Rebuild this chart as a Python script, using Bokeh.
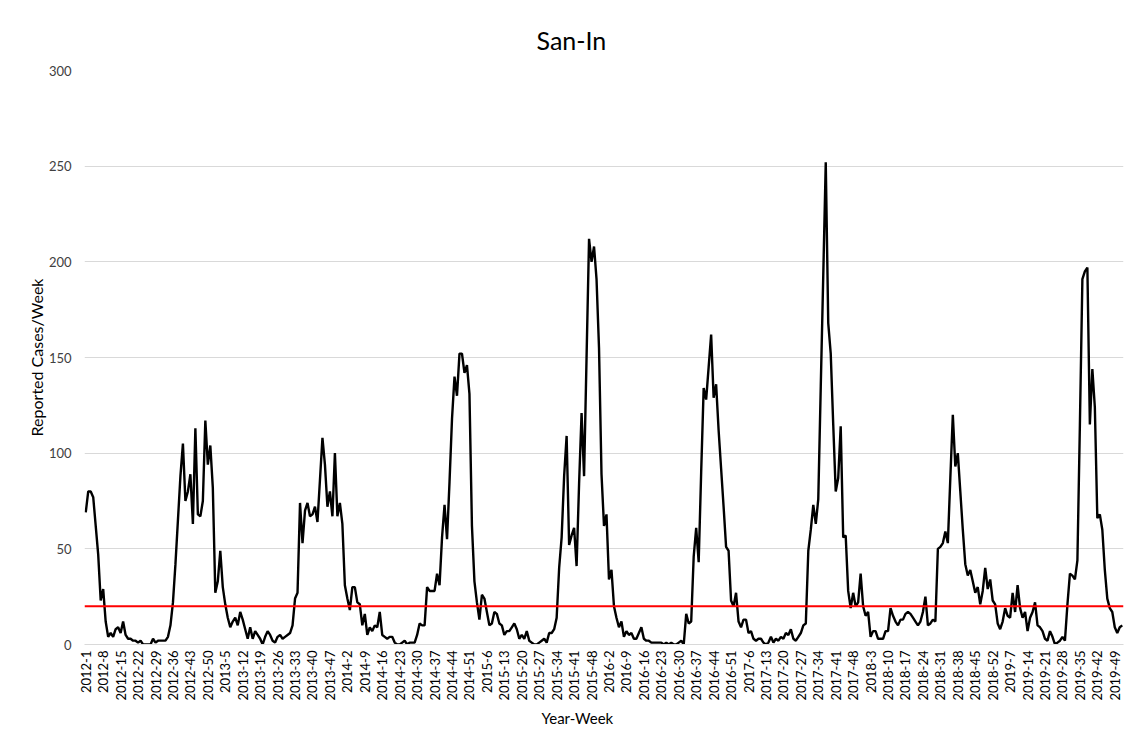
import math
from bokeh.plotting import figure
from bokeh.models import Range1d, FixedTicker, Span, ColumnDataSource, Title
from bokeh.embed import file_html
from bokeh.resources import INLINE

# ---- data ----
years = [2012, 2013, 2014, 2015, 2016, 2017, 2018, 2019]
weeks_in_year = [52, 52, 52, 53, 52, 52, 52, 52]

cases_2012 = [69, 80, 80, 77, 62, 47, 23, 29, 12, 4,
              6, 4, 8, 9, 6, 12, 5, 3, 3, 2,
              2, 1, 2, 0, 0, 0, 0, 3, 1, 2,
              2, 2, 2, 4, 10, 22, 42, 65, 88, 105,
              75, 80, 89, 63, 113, 68, 67, 75, 117, 94,
              104, 82]
cases_2013 = [27, 33, 49, 30, 21, 14, 9, 12, 14, 10,
              17, 13, 8, 3, 9, 3, 7, 5, 3, 0,
              4, 7, 5, 2, 1, 4, 5, 3, 4, 5,
              6, 10, 24, 27, 74, 53, 70, 74, 67, 68,
              72, 64, 86, 108, 94, 72, 80, 67, 100, 67,
              74, 63]
cases_2014 = [31, 24, 18, 30, 30, 22, 21, 10, 16, 5,
              9, 7, 10, 9, 17, 5, 4, 3, 4, 4,
              1, 0, 0, 1, 2, 0, 1, 1, 1, 5,
              11, 10, 10, 30, 28, 28, 28, 37, 31, 56,
              73, 55, 85, 118, 140, 130, 152, 152, 142, 146,
              131, 62]
cases_2015 = [33, 22, 13, 26, 24, 17, 10, 11, 17, 16,
              11, 10, 5, 7, 7, 9, 11, 8, 3, 5,
              3, 7, 2, 1, 0, 0, 1, 2, 3, 1,
              6, 6, 8, 14, 40, 56, 88, 109, 52, 57,
              61, 41, 84, 121, 88, 150, 212, 200, 208, 191,
              155, 89, 62]
cases_2016 = [68, 34, 39, 20, 14, 9, 12, 4, 7, 5,
              6, 3, 3, 6, 9, 3, 2, 2, 1, 1,
              1, 1, 1, 0, 1, 0, 1, 0, 0, 1,
              2, 0, 16, 11, 12, 46, 61, 43, 90, 134,
              128, 145, 162, 129, 136, 112, 92, 72, 51, 49,
              23, 20]
cases_2017 = [27, 12, 9, 13, 13, 6, 7, 3, 2, 3,
              3, 1, 0, 1, 4, 1, 3, 2, 4, 3,
              6, 5, 8, 3, 2, 4, 6, 10, 11, 49,
              60, 73, 63, 76, 135, 193, 252, 168, 152, 115,
              80, 87, 114, 56, 57, 28, 19, 27, 20, 22,
              37, 20]
cases_2018 = [15, 17, 4, 7, 7, 3, 3, 3, 7, 7,
              19, 15, 12, 10, 13, 13, 16, 17, 16, 14,
              12, 10, 12, 17, 25, 10, 11, 13, 12, 50,
              51, 53, 59, 53, 87, 120, 93, 100, 80, 60,
              42, 36, 39, 33, 27, 30, 21, 28, 40, 29,
              34, 23]
cases_2019 = [21, 11, 8, 12, 19, 15, 14, 27, 17, 31,
              19, 14, 17, 7, 14, 17, 22, 10, 9, 7,
              3, 2, 7, 4, 0, 1, 2, 4, 2, 21,
              37, 36, 34, 44, 115, 191, 195, 197, 115, 144,
              124, 66, 68, 60, 39, 24, 19, 17, 9, 6,
              9, 10]

threshold = 20
tick_step = 7
y_ticks = [0, 50, 100, 150, 200, 250, 300]

series_by_year = [cases_2012, cases_2013, cases_2014, cases_2015,
                  cases_2016, cases_2017, cases_2018, cases_2019]

week_labels = []
cases = []
for yr, n, vals in zip(years, weeks_in_year, series_by_year):
    k = min(n, len(vals))
    for w in range(1, k + 1):
        week_labels.append(f"{yr}-{w}")
    cases.extend(vals[:k])

xs = list(range(len(cases)))
src = ColumnDataSource(dict(x=xs, y=cases, label=week_labels))

FONT = "Lato"

p = figure(width=1124, height=736, output_backend="svg", toolbar_location=None,
           x_range=Range1d(-0.5, len(cases) - 0.5), y_range=Range1d(0, 300),
           min_border_left=84, min_border_right=1, min_border_top=70,
           min_border_bottom=92)

p.title.text = "San-In"
p.title.align = "left"
p.title.offset = 452
p.title.text_font = FONT
p.title.text_font_size = "25px"
p.title.text_font_style = "normal"
p.title.text_color = "#000000"
p.title.standoff = 31

p.outline_line_color = None
p.background_fill_color = "white"
p.border_fill_color = "white"

# grid
p.xgrid.grid_line_color = None
p.ygrid.grid_line_color = "#d9d9d9"
p.ygrid.grid_line_width = 1
p.ygrid.ticker = FixedTicker(ticks=y_ticks)

# y axis
p.yaxis.ticker = FixedTicker(ticks=y_ticks)
p.yaxis.axis_line_color = None
p.yaxis.major_tick_line_color = None
p.yaxis.minor_tick_line_color = None
p.yaxis.major_tick_out = 0
p.yaxis.major_label_standoff = 13
p.yaxis.major_label_text_font = FONT
p.yaxis.major_label_text_font_size = "13px"
p.yaxis.major_label_text_color = "#404040"
p.yaxis.axis_label = "Reported Cases/Week"
p.yaxis.axis_label_text_font = FONT
p.yaxis.axis_label_text_font_size = "16px"
p.yaxis.axis_label_text_font_style = "normal"
p.yaxis.axis_label_text_color = "#000000"
p.yaxis.axis_label_standoff = 0

# x axis
tick_pos = list(range(0, len(cases), tick_step))
p.xaxis.ticker = FixedTicker(ticks=tick_pos)
p.xaxis.major_label_overrides = {t: week_labels[t] for t in tick_pos}
p.xaxis.major_label_orientation = math.pi / 2
p.xaxis.axis_line_color = "#d9d9d9"
p.xaxis.major_tick_line_color = None
p.xaxis.minor_tick_line_color = None
p.xaxis.major_tick_out = 0
p.xaxis.major_label_standoff = 6
p.xaxis.major_label_text_font = FONT
p.xaxis.major_label_text_font_size = "13px"
p.xaxis.major_label_text_color = "#000000"

# x-axis title (Excel places it left of the frame centre)
xtitle = Title(text="Year-Week", align="left", offset=457, standoff=6,
               text_font=FONT, text_font_size="15px",
               text_font_style="normal", text_color="#000000")
p.add_layout(xtitle, "below")

# threshold line
p.add_layout(Span(location=threshold, dimension="width", line_color="#ff0000",
                  line_width=2))

# data line
p.line("x", "y", source=src, line_color="#000000", line_width=2.4)

open("out.html", "w").write(file_html(p, INLINE))
